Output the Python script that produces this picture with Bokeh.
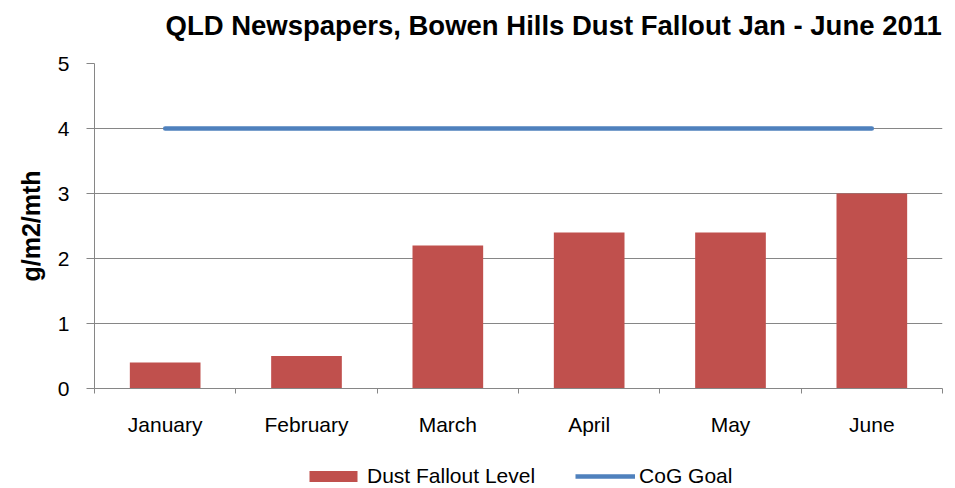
from bokeh.plotting import figure
from bokeh.models import (Range1d, FixedTicker, Legend, LegendItem,
                          ColumnDataSource, Title)
from bokeh.layouts import column
from bokeh.embed import file_html
from bokeh.resources import INLINE

months = ["January", "February", "March", "April", "May", "June"]
dust = [0.4, 0.5, 2.2, 2.4, 2.4, 3.0]
goal = [4, 4, 4, 4, 4, 4]
y_ticks = [0, 1, 2, 3, 4, 5]
series_names = ["Dust Fallout Level", "CoG Goal"]

FONT = "Liberation Sans"
GRAY = "#868686"
RED = "#C0504D"
BLUE = "#4F81BD"

centers = [i + 0.5 for i in range(len(months))]
src = ColumnDataSource(dict(x=centers, month=months, dust=dust, goal=goal))

p = figure(width=950, height=458, output_backend="svg", toolbar_location=None,
           x_range=Range1d(0, len(months)), y_range=Range1d(0, 5),
           min_border_left=94, min_border_right=8, min_border_top=63,
           min_border_bottom=70,
           title="QLD Newspapers, Bowen Hills Dust Fallout Jan - June 2011")
p.outline_line_color = None
p.background_fill_color = "white"
p.border_fill_color = "white"

p.title.align = "left"
p.title.offset = 71
p.title.text_font = FONT
p.title.text_font_size = "27.5px"
p.title.text_font_style = "bold"
p.title.text_color = "#000000"
# blank spacer between title and plot area
p.add_layout(Title(text=" ", text_font_size="14px", standoff=0), "above")

p.vbar(x="x", top="dust", width=0.5, source=src, fill_color=RED, line_color=None)
p.line(x="x", y="goal", source=src, line_color=BLUE, line_width=4.5, line_cap="round")

# x axis
xa = p.xaxis[0]
xa.ticker = FixedTicker(ticks=centers, minor_ticks=list(range(len(months) + 1)))
xa.major_label_overrides = {c: m for c, m in zip(centers, months)}
xa.major_tick_out = 0
xa.major_tick_in = 0
xa.minor_tick_out = 5
xa.minor_tick_in = 0
xa.minor_tick_line_color = GRAY
xa.axis_line_color = GRAY
xa.major_label_text_font = FONT
xa.major_label_text_font_size = "21px"
xa.major_label_text_color = "#000000"
xa.major_label_standoff = 19

# y axis
ya = p.yaxis[0]
ya.ticker = FixedTicker(ticks=y_ticks)
ya.major_tick_out = 8
ya.major_tick_in = 0
ya.minor_tick_line_color = None
ya.major_tick_line_color = GRAY
ya.axis_line_color = GRAY
ya.major_label_text_font = FONT
ya.major_label_text_font_size = "21px"
ya.major_label_text_color = "#000000"
ya.major_label_standoff = 17
ya.axis_label = "g/m2/mth"
ya.axis_label_text_font = FONT
ya.axis_label_text_font_size = "25px"
ya.axis_label_text_font_style = "bold"
ya.axis_label_text_color = "#000000"
ya.axis_label_standoff = 10

p.xgrid.grid_line_color = None
p.ygrid.grid_line_color = GRAY
p.ygrid.grid_line_width = 1

# legend strip below the chart (its series glyphs lie outside its visible range)
lg = figure(width=950, height=30, output_backend="svg", toolbar_location=None,
            x_range=Range1d(0, len(months)), y_range=Range1d(100, 101),
            x_axis_location=None, y_axis_location=None,
            min_border_left=0, min_border_right=0, min_border_top=0,
            min_border_bottom=0)
lg.outline_line_color = None
lg.grid.grid_line_color = None
r_bar = lg.vbar(x="x", top="dust", width=0.5, source=src, fill_color=RED, line_color=None)
r_line = lg.line(x="x", y="goal", source=src, line_color=BLUE, line_width=4.5)

legend = Legend(items=[LegendItem(label=series_names[0], renderers=[r_bar]),
                       LegendItem(label=series_names[1], renderers=[r_line])],
                location=(209, 0), orientation="horizontal",
                glyph_width=60, glyph_height=14, label_standoff=4, spacing=40,
                label_height=24, padding=0, margin=0, border_line_color=None,
                background_fill_alpha=0,
                label_text_font=FONT, label_text_font_size="21px",
                label_text_color="#000000")
lg.add_layout(legend, "center")

layout = column(p, lg, spacing=0)
open("out.html", "w").write(file_html(layout, INLINE))
